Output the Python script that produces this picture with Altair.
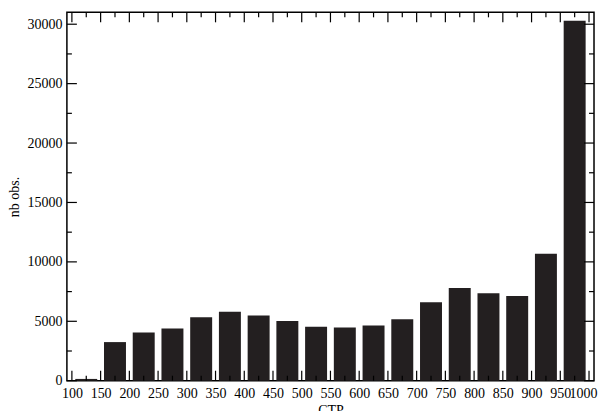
import altair as alt
import pandas as pd

bin_start = [100, 150, 200, 250, 300, 350, 400, 450, 500, 550, 600, 650, 700, 750, 800, 850, 900, 950]
counts = [150, 3250, 4050, 4400, 5340, 5800, 5480, 5030, 4550, 4470, 4640, 5170, 6610, 7800, 7370, 7120, 10680, 30300]
bin_width = 50

x_major = list(range(100, 1001, 50))
x_minor = list(range(125, 1000, 50))
y_major = list(range(0, 30001, 5000))
y_minor = list(range(2500, 30000, 5000))

W, H = 528, 369
XDOM = [100, 1000]
YDOM = [0, 31000]
FONT = "Liberation Serif"
BAR = "#231f20"

df = pd.DataFrame({"start": bin_start, "count": counts})
df["center"] = df["start"] + bin_width / 2

xs = alt.Scale(domain=XDOM, nice=False, zero=False)
ys = alt.Scale(domain=YDOM, nice=False)

xaxis = alt.Axis(values=x_major, format="d", ticks=False, tickSize=0, domain=False,
                 grid=False, labelPadding=6, labelFontSize=14, labelFont=FONT,
                 labelColor="black", titleFont=FONT, titleFontSize=14,
                 titleFontWeight="normal", titleColor="black", titlePadding=3,
                 labelOverlap=False, labelFlush=False,
                 labelOffset={"condition": {"test": "datum.value == 1000", "value": -6}, "value": 0})
yaxis = alt.Axis(values=y_major, format="d", ticks=False, tickSize=0, domain=False,
                 grid=False, labelPadding=5, labelFontSize=14, labelFont=FONT,
                 labelColor="black", titleFont=FONT, titleFontSize=14,
                 titleFontWeight="normal", titleColor="black", titlePadding=5,
                 labelOverlap=False)

bars = alt.Chart(df).mark_bar(width=22, color=BAR).encode(
    x=alt.X("center:Q", scale=xs, title="CTP", axis=xaxis),
    y=alt.Y("count:Q", scale=ys, title="nb obs.", axis=yaxis),
)

def xticks(vals, length, top):
    d = pd.DataFrame({"v": vals})
    if top:
        y1, y2 = 0, length
    else:
        y1, y2 = H, H - length
    return alt.Chart(d).mark_rule(color="black", strokeWidth=1.2).encode(
        x=alt.X("v:Q", scale=xs, title="CTP", axis=xaxis),
        y=alt.value(y1), y2=alt.value(y2))

def yticks(vals, length, right):
    d = pd.DataFrame({"v": vals})
    if right:
        x1, x2 = W, W - length
    else:
        x1, x2 = 0, length
    return alt.Chart(d).mark_rule(color="black", strokeWidth=1.2).encode(
        y=alt.Y("v:Q", scale=ys, title="nb obs.", axis=yaxis),
        x=alt.value(x1), x2=alt.value(x2))

layers = [bars,
          xticks(x_major, 10, False), xticks(x_minor, 5, False),
          xticks(x_major, 10, True), xticks(x_minor, 5, True),
          yticks(y_major, 10, False), yticks(y_minor, 5, False),
          yticks(y_major, 10, True), yticks(y_minor, 5, True)]

chart = alt.layer(*layers).properties(
    width=W, height=H,
    autosize=alt.AutoSizeParams(type="none"),
    padding={"left": 59, "top": 4, "right": 6, "bottom": 30},
    background="white",
).configure_view(stroke="black", strokeWidth=1.5)

chart.save("out.html", embed_options={"renderer": "svg", "actions": False})
